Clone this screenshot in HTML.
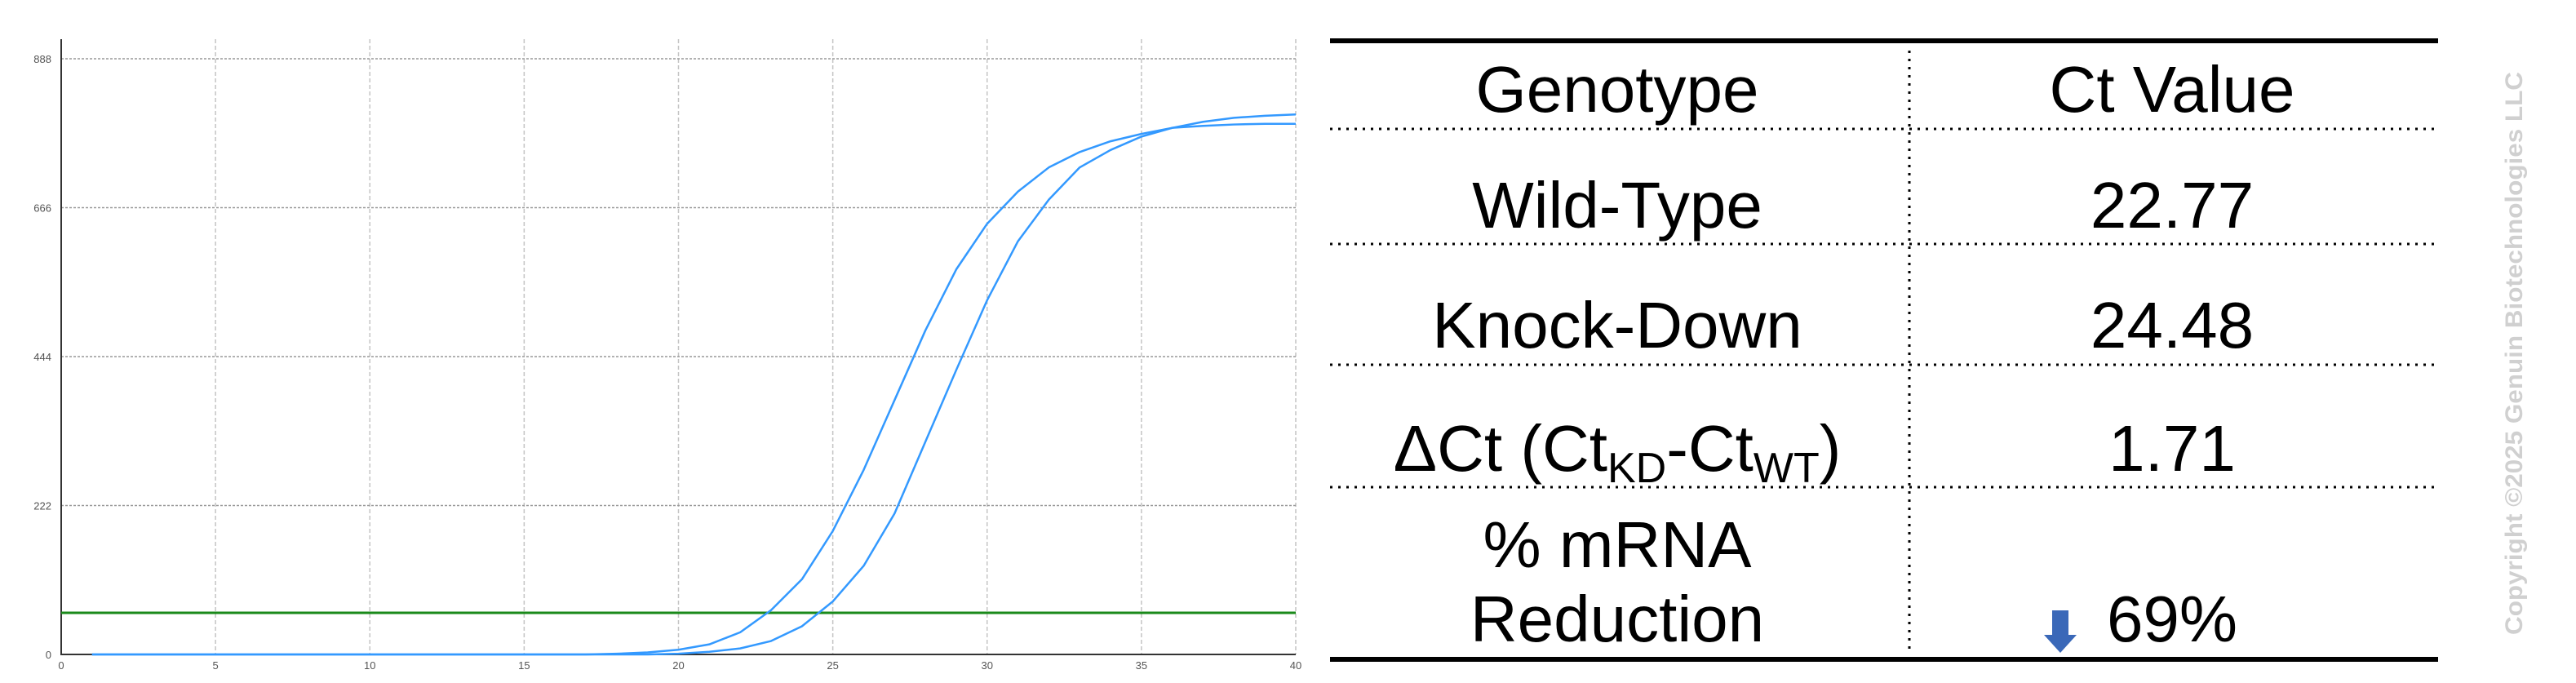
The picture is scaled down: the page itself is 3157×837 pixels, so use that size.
<!DOCTYPE html>
<html><head><meta charset="utf-8">
<style>
html,body{margin:0;padding:0;background:#fff;width:3157px;height:837px;overflow:hidden}
svg{position:absolute;left:0;top:0}
</style></head>
<body>
<svg id="chart" width="3157" height="837" xmlns="http://www.w3.org/2000/svg" font-family="Liberation Sans, sans-serif"></svg>
<script>
const cycles = Array.from({length:40},(_,i)=>i+1);
const wildType = [0,0,0,0,0,0,0,0,0,0,0,0,0,0,0,0,0,1,3,7,15,33,66,112,184,275,379,483,574,642,690,726,749,765,776,785,788,790,791,791];
const knockDown = [0,0,0,0,0,0,0,0,0,0,0,0,0,0,0,0,0,0,0,1,4,9,20,42,79,132,210,317,424,528,616,678,726,752,772,785,794,800,803,805];
const threshold = 62;
const xTicks = [0,5,10,15,20,25,30,35,40];
const yTicks = [0,222,444,666,888];

const NS="http://www.w3.org/2000/svg";
const svg=document.getElementById('chart');
const X0=75,X1=1588,Y0=802,Y1=72,YMAX=888,XMAX=40;
const xs=v=>X0+(v/XMAX)*(X1-X0);
const ys=v=>Y0-(v/YMAX)*(Y0-Y1);
function mk(t,a,p){const e=document.createElementNS(NS,t);for(const k in a)e.setAttribute(k,a[k]);(p||svg).appendChild(e);return e;}

xTicks.forEach(t=>{
  if(t>0){const l=mk('line',{x1:xs(t),x2:xs(t),y1:48,y2:Y0,stroke:'#c4c4c4','stroke-width':1.5,'stroke-dasharray':'5,3'});
  
  }
  const tx=mk('text',{x:xs(t),y:Y0+18,'font-size':13,fill:'#555','text-anchor':'middle'});
  tx.textContent=t;
  
  
});
yTicks.forEach(t=>{
  if(t>0){const l=mk('line',{x1:X0,x2:X1,y1:ys(t),y2:ys(t),stroke:'#999','stroke-width':1.5,'stroke-dasharray':'3,2'});
  
  }
  const tx=mk('text',{x:X0-12,y:ys(t)+5,'font-size':13,fill:'#555','text-anchor':'end'});
  tx.textContent=t;
  
  
});
const ax=mk('path',{d:`M${X0},48 V${Y0} H${X1}`,stroke:'#333','stroke-width':2,fill:'none'});


const th=mk('line',{x1:X0,x2:X1,y1:ys(threshold),y2:ys(threshold),stroke:'#1a8a1a','stroke-width':3});


[[wildType,'wild-type-curve'],[knockDown,'knock-down-curve']].forEach(([s,n])=>{
  const p=mk('polyline',{points:s.map((v,i)=>xs(cycles[i])+','+ys(v)).join(' '),fill:'none',stroke:'#3399ff','stroke-width':2.5,'stroke-linejoin':'round'});
  
  
});

// Table
const g=mk('g',{});


mk('rect',{x:1630,y:47,width:1358,height:6,fill:'#000'},g);
mk('rect',{x:1630,y:805,width:1358,height:6,fill:'#000'},g);
mk('line',{x1:2340,x2:2340,y1:62,y2:800,stroke:'#000','stroke-width':3,'stroke-dasharray':'3,7'},g);
[158,299,447,597].forEach(y=>mk('line',{x1:1630,x2:2988,y1:y,y2:y,stroke:'#000','stroke-width':3,'stroke-dasharray':'3,7'},g));
function txt(s,x,y,name,extra){const t=mk('text',Object.assign({x:x,y:y,'font-size':80,'text-anchor':'middle',fill:'#000'},extra||{}),g);t.innerHTML=s;return t;}
txt('Genotype',1982,137,'header-genotype');
txt('Ct Value',2662,137,'header-ct-value');
txt('Wild-Type',1982,279,'row-wild-type');
txt('22.77',2662,279,'wt-ct');
txt('Knock-Down',1982,426,'row-knock-down');
txt('24.48',2662,426,'kd-ct');
txt('ΔCt (Ct<tspan font-size="52" dy="14">KD</tspan><tspan dy="-14">-Ct</tspan><tspan font-size="52" dy="14">WT</tspan><tspan dy="-14">)</tspan>',1982,577,'row-delta-ct');
txt('1.71',2662,577,'delta-ct-value');
txt('% mRNA',1982,695,'row-mrna-reduction-1');
txt('Reduction',1982,786,'row-mrna-reduction-2');
txt('69%',2662,786,'reduction-value');
const ar=mk('path',{d:'M2515,748 H2535 V778 H2545 L2525,800 L2505,778 H2515 Z',fill:'#3a68b8'},g);


const c=mk('text',{x:0,y:0,'font-size':30,'font-weight':'bold',fill:'#d0d0d0','text-anchor':'middle',transform:'translate(3091,433) rotate(-90)',textLength:690,lengthAdjust:'spacingAndGlyphs'});
c.textContent='Copyright ©2025 Genuin Biotechnologies LLC';


</script>
</body></html>
